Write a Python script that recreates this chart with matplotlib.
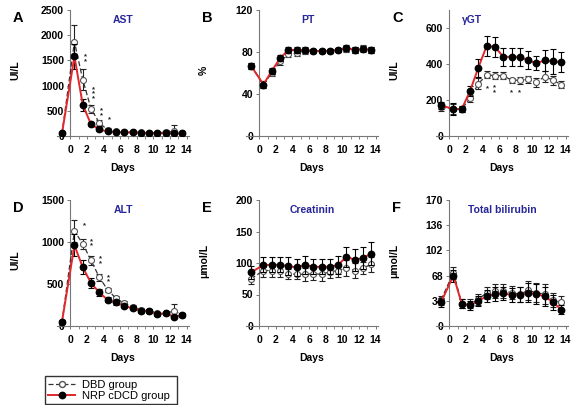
import numpy as np
import matplotlib
matplotlib.use("Agg")
import matplotlib.pyplot as plt
from matplotlib.ticker import MultipleLocator
from matplotlib.lines import Line2D

plt.rcParams["font.family"] = ["Liberation Sans", "DejaVu Sans"]

# ---- data -------------------------------------------------------------
days = [-1, 0.5, 1.5, 2.5, 3.5, 4.5, 5.5, 6.5, 7.5, 8.5, 9.5, 10.5, 11.5, 12.5, 13.5]

ast_dbd = [50, 1870, 1120, 540, 260, 120, 90, 80, 75, 70, 65, 60, 80, 90, 60]
ast_dbd_err = [20, 330, 200, 80, 60, 30, 20, 15, 15, 15, 15, 15, 40, 130, 20]
ast_nrp = [50, 1580, 620, 230, 130, 90, 80, 70, 70, 65, 60, 50, 60, 50, 50]
ast_nrp_err = [20, 250, 120, 40, 30, 20, 15, 15, 15, 15, 15, 15, 20, 20, 15]

pt_dbd = [67, 49, 60, 71, 78, 79, 81, 81, 81, 81, 82, 83, 82, 84, 82]
pt_dbd_err = [3, 3, 3, 3, 3, 3, 3, 2, 2, 2, 2, 3, 3, 3, 3]
pt_nrp = [67, 49, 62, 74, 82, 82, 82, 81, 81, 81, 82, 84, 82, 83, 82]
pt_nrp_err = [3, 3, 3, 3, 3, 3, 3, 2, 2, 2, 2, 3, 3, 3, 3]

ggt_dbd = [160, 150, 150, 210, 290, 340, 335, 335, 310, 310, 315, 300, 330, 310, 285]
ggt_dbd_err = [20, 30, 15, 20, 30, 20, 20, 20, 15, 20, 20, 25, 30, 25, 20]
ggt_nrp = [170, 150, 150, 250, 380, 500, 495, 440, 440, 440, 420, 405, 420, 415, 410]
ggt_nrp_err = [20, 35, 15, 30, 50, 55, 55, 50, 50, 50, 50, 40, 60, 70, 55]

alt_dbd = [50, 1130, 980, 780, 580, 430, 330, 270, 230, 190, 180, 150, 150, 180, 130]
alt_dbd_err = [20, 130, 60, 50, 40, 25, 30, 30, 25, 20, 20, 20, 20, 80, 20]
alt_nrp = [50, 960, 700, 510, 400, 310, 280, 240, 210, 180, 180, 140, 150, 110, 130]
alt_nrp_err = [20, 130, 80, 60, 40, 30, 25, 25, 20, 20, 20, 20, 20, 20, 20]

cre_dbd = [75, 88, 88, 87, 83, 82, 82, 83, 82, 86, 88, 92, 88, 92, 98]
cre_dbd_err = [8, 10, 10, 10, 8, 8, 10, 10, 10, 10, 10, 12, 12, 10, 12]
cre_nrp = [85, 97, 97, 97, 95, 93, 97, 94, 94, 94, 97, 110, 105, 108, 115]
cre_nrp_err = [10, 12, 12, 12, 14, 14, 14, 12, 12, 12, 14, 16, 18, 18, 18]

bil_dbd = [35, 72, 30, 30, 36, 45, 47, 47, 45, 43, 48, 45, 43, 35, 32]
bil_dbd_err = [6, 8, 6, 6, 7, 8, 9, 9, 9, 10, 13, 13, 13, 10, 9]
bil_nrp = [32, 68, 30, 28, 34, 40, 43, 44, 42, 42, 45, 43, 40, 32, 22]
bil_nrp_err = [6, 8, 6, 6, 7, 8, 9, 9, 9, 10, 13, 13, 13, 10, 6]

# asterisk annotations: (day, value, text)
ast_stars = [(1.8, 1530, "*\n*"), (2.85, 830, "*\n*\n*"), (3.7, 450, "*\n*"), (4.7, 330, "*")]
ggt_stars = [(4.6, 265, "*"), (5.4, 255, "*\n*"), (7.5, 243, "*"), (8.5, 243, "*")]
alt_stars = [(1.7, 1190, "*"), (2.6, 980, "*\n*"), (3.65, 770, "*\n*"), (4.65, 550, "*\n*")]

panels = [
    ("A", "AST", "UI/L", ast_dbd, ast_dbd_err, ast_nrp, ast_nrp_err, (0, 2500), [0, 500, 1000, 1500, 2000, 2500], ast_stars, 0.5),
    ("B", "PT", "%", pt_dbd, pt_dbd_err, pt_nrp, pt_nrp_err, (0, 120), [0, 40, 80, 120], [], 0.47),
    ("C", "\u03b3GT", "UI/L", ggt_dbd, ggt_dbd_err, ggt_nrp, ggt_nrp_err, (0, 700), [0, 200, 400, 600], ggt_stars, 0.27),
    ("D", "ALT", "UI/L", alt_dbd, alt_dbd_err, alt_nrp, alt_nrp_err, (0, 1500), [0, 500, 1000, 1500], alt_stars, 0.5),
    ("E", "Creatinin", "\u03bcmol/L", cre_dbd, cre_dbd_err, cre_nrp, cre_nrp_err, (0, 200), [0, 50, 100, 150, 200], [], 0.5),
    ("F", "Total bilirubin", "\u03bcmol/L", bil_dbd, bil_dbd_err, bil_nrp, bil_nrp_err, (0, 170), [0, 34, 68, 102, 136, 170], [], 0.5),
]

# ---- figure -------------------------------------------------------------
W, H = 572, 405
fig = plt.figure(figsize=(W / 100, H / 100), dpi=100)

RED = "#e2262c"
BLUE = "#26269a"
col_left = [57, 246, 436]
row_top = [10, 200]
ax_w, ax_h = 132, 126

for i, (letter, title, ylab, dbd, dbd_e, nrp, nrp_e, ylim, yticks, stars, tx) in enumerate(panels):
    r, c = divmod(i, 3)
    left = col_left[c] / W
    bottom = 1 - (row_top[r] + ax_h) / H
    ax = fig.add_axes([left, bottom, ax_w / W, ax_h / H])

    ax.errorbar(days, dbd, yerr=dbd_e, color="#333333", ls=(0, (4, 2)), lw=0.9,
                marker="o", ms=4.3, mfc="white", mec="#555555", mew=0.8,
                ecolor="#222222", elinewidth=0.8, capsize=2.4, capthick=0.8, zorder=3)
    ax.errorbar(days, nrp, yerr=nrp_e, color=RED, ls="-", lw=1.4,
                marker="o", ms=4.6, mfc="black", mec="black",
                ecolor="black", elinewidth=0.8, capsize=2.4, capthick=0.8, zorder=4)

    for sx, sy, st in stars:
        ax.text(sx, sy, st, fontsize=5.5, fontweight="bold", ha="center", va="center",
                linespacing=0.55, color="#222222")

    ax.set_xlim(-1.6, 14.3)
    ax.set_ylim(*ylim)
    ax.set_yticks(yticks)
    ax.xaxis.set_minor_locator(MultipleLocator(1))
    ax.set_xticks(range(0, 15, 2))

    ax.spines["left"].set_position(("data", 0))
    ax.spines["top"].set_visible(False)
    ax.spines["right"].set_visible(False)
    for sp in ("left", "bottom"):
        ax.spines[sp].set_color("#777777")
        ax.spines[sp].set_linewidth(0.8)

    ax.tick_params(axis="both", which="major", labelsize=7.5, length=2.5, width=0.7,
                   color="#777777", pad=2)
    ax.tick_params(axis="x", which="minor", length=1.8, width=0.6, color="#777777")
    ax.tick_params(axis="x", which="major", pad=4)
    for lab in ax.get_xticklabels() + ax.get_yticklabels():
        lab.set_fontweight("bold")

    ax.set_xlabel("Days", fontsize=7.5, fontweight="bold", labelpad=6)
    ax.set_ylabel(ylab, fontsize=7.5, fontweight="bold")
    ax.yaxis.set_label_coords(-0.28, 0.52)

    ax.text(tx, 0.92, title, transform=ax.transAxes, color=BLUE,
            fontsize=7.5, fontweight="bold", ha="center", va="center")

    fig.text((col_left[c] - 44) / W, 1 - (row_top[r] + 1) / H, letter,
             fontsize=10.5, fontweight="bold", ha="left", va="top")

# ---- legend -------------------------------------------------------------
handles = [
    Line2D([], [], color="#333333", ls=(0, (4, 2)), lw=0.9, marker="o", ms=4.3,
           mfc="white", mec="#555555"),
    Line2D([], [], color=RED, lw=1.4, marker="o", ms=4.6, mfc="black", mec="black"),
]
fig.legend(handles, ["DBD group", "NRP cDCD group"], loc="lower left",
           bbox_to_anchor=(45 / W, 1 - 404 / H, 132 / W, 33 / H), mode="expand",
           fontsize=8, frameon=True, fancybox=False, edgecolor="black",
           handlelength=2.4, handletextpad=0.6, borderpad=0.3, labelspacing=0.1,
           borderaxespad=0)

fig.savefig("out.png", dpi=100)
